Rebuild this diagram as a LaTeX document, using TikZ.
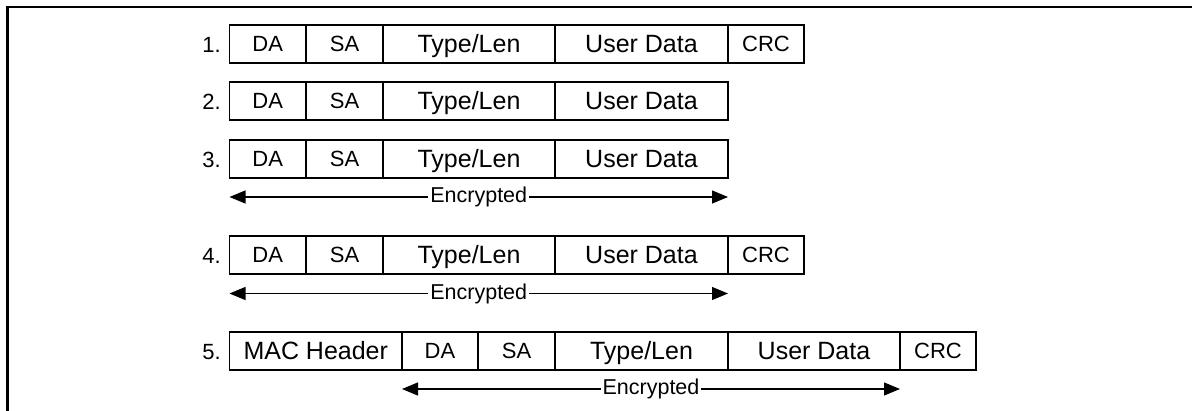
\documentclass[tikz,border=0pt]{standalone}
\usepackage{fontspec}
\setmainfont{Liberation Sans}
\usetikzlibrary{arrows.meta}
\tikzset{
  field/.style={draw=black, line width=1.2pt, rectangle, anchor=north west,
    minimum height=38pt, inner sep=0pt, outer sep=0pt},
  sm/.style={font=\fontsize{22}{26}\selectfont, text height=15.8pt, text depth=0pt},
  bg/.style={font=\fontsize{25}{30}\selectfont, text height=17.9pt, text depth=0pt},
  rowlab/.style={anchor=east, inner sep=0pt, font=\fontsize{22}{26}\selectfont,
    text height=15.8pt, text depth=0pt},
  encarrow/.style={line width=1.2pt, {Triangle[length=16pt,width=13pt]}-{Triangle[length=16pt,width=13pt]}},
  enctext/.style={fill=white, inner sep=2pt, font=\fontsize{21.5}{25}\selectfont},
  frameline/.style={line width=2.4pt},
}
\begin{document}
\begin{tikzpicture}[x=1pt,y=-1pt]
\useasboundingbox (0,0) rectangle (1192,411);
% frame
\coordinate (fb) at (7.5,415);
\coordinate (fc) at (7.5,6.8);
\coordinate (fr) at (1196,6.8);
\draw[frameline] (fb) -- (fc) -- (fr);

% Row 1
\node[field, sm, minimum width=76.5pt] (r1da) at (229.5,25) {DA};
\node[field, sm, minimum width=77pt] (r1sa) at (306,25) {SA};
\node[field, bg, minimum width=172pt] (r1tl) at (383,25) {Type/Len};
\node[field, bg, minimum width=173pt] (r1ud) at (555,25) {User Data};
\node[field, sm, minimum width=76pt] (r1crc) at (728,25) {CRC};
\node[rowlab] (n1) at (221,44.5) {1.};

% Row 2
\node[field, sm, minimum width=76.5pt] (r2da) at (229.5,82) {DA};
\node[field, sm, minimum width=77pt] (r2sa) at (306,82) {SA};
\node[field, bg, minimum width=172pt] (r2tl) at (383,82) {Type/Len};
\node[field, bg, minimum width=173pt] (r2ud) at (555,82) {User Data};
\node[rowlab] (n2) at (221,101.5) {2.};

% Row 3
\node[field, sm, minimum width=76.5pt] (r3da) at (229.5,140) {DA};
\node[field, sm, minimum width=77pt] (r3sa) at (306,140) {SA};
\node[field, bg, minimum width=172pt] (r3tl) at (383,140) {Type/Len};
\node[field, bg, minimum width=173pt] (r3ud) at (555,140) {User Data};
\node[rowlab] (n3) at (221,159.5) {3.};
\coordinate (a3l) at ([yshift=-19pt]r3da.south west);
\coordinate (a3r) at ([yshift=-19pt]r3ud.south east);
\draw[encarrow] (a3l) -- node[enctext] (e3) {Encrypted} (a3r);

% Row 4
\node[field, sm, minimum width=76.5pt] (r4da) at (229.5,236) {DA};
\node[field, sm, minimum width=77pt] (r4sa) at (306,236) {SA};
\node[field, bg, minimum width=172pt] (r4tl) at (383,236) {Type/Len};
\node[field, bg, minimum width=173pt] (r4ud) at (555,236) {User Data};
\node[field, sm, minimum width=76pt] (r4crc) at (728,236) {CRC};
\node[rowlab] (n4) at (221,255.5) {4.};
\coordinate (a4l) at ([yshift=-19.5pt]r4da.south west);
\coordinate (a4r) at ([yshift=-19.5pt]r4ud.south east);
\draw[encarrow] (a4l) -- node[enctext] (e4) {Encrypted} (a4r);

% Row 5
\node[field, bg, minimum width=172.5pt] (r5mac) at (229.5,332) {MAC Header};
\node[field, sm, minimum width=76pt] (r5da) at (402,332) {DA};
\node[field, sm, minimum width=77pt] (r5sa) at (478,332) {SA};
\node[field, bg, minimum width=173pt] (r5tl) at (555,332) {Type/Len};
\node[field, bg, minimum width=172pt] (r5ud) at (728,332) {User Data};
\node[field, sm, minimum width=76pt] (r5crc) at (900,332) {CRC};
\node[rowlab] (n5) at (221,351.5) {5.};
\coordinate (a5l) at ([yshift=-19pt]r5da.south west);
\coordinate (a5r) at ([yshift=-19pt]r5ud.south east);
\draw[encarrow] (a5l) -- node[enctext] (e5) {Encrypted} (a5r);
\end{tikzpicture}
\end{document}
